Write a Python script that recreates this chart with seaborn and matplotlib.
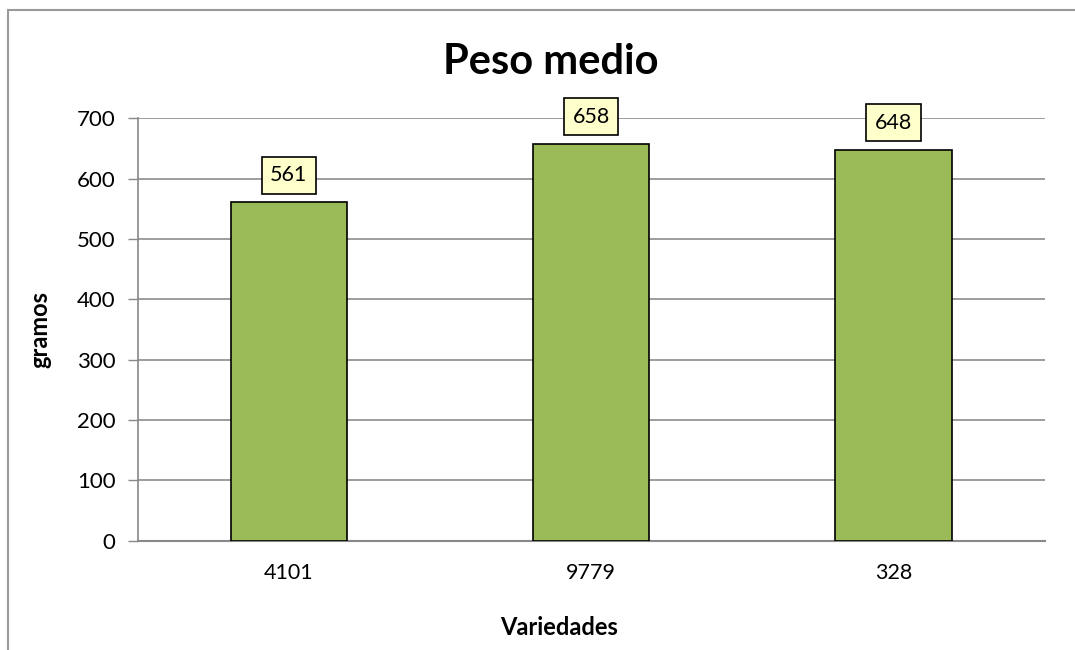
import matplotlib
matplotlib.use("Agg")
import matplotlib.pyplot as plt
import seaborn as sns
import pandas as pd
from matplotlib.lines import Line2D

categories = ["4101", "9779", "328"]
values = [561, 658, 648]
yticks = [0, 100, 200, 300, 400, 500, 600, 700]

sns.set_theme(style="white")
plt.rcParams['font.family'] = ['Lato', 'DejaVu Sans']
plt.rcParams['text.color'] = 'black'
plt.rcParams['axes.labelcolor'] = 'black'
plt.rcParams['xtick.color'] = 'black'
plt.rcParams['ytick.color'] = 'black'

fig = plt.figure(figsize=(10.75, 6.5), dpi=100)
ax = fig.add_axes([0.128, 0.168, 0.844, 0.650])

df = pd.DataFrame({"Variedades": categories, "gramos": values})
sns.barplot(data=df, x="Variedades", y="gramos", color="#9BBB59", saturation=1,
            width=0.385, edgecolor="black", linewidth=1.2, ax=ax, zorder=3)

ax.set_ylim(0, 700)
ax.set_xlim(-0.5, 2.5)
ax.set_yticks(yticks)
ax.set_yticklabels([str(v) for v in yticks], fontsize=16)
ax.tick_params(axis='x', labelsize=15.5, length=0, pad=16, labelcolor="black")
ax.tick_params(axis='y', left=True, length=7, width=1, color="#888888",
               labelcolor="black", pad=9)
ax.grid(axis='y', color="#8c8c8c", linewidth=1.2, zorder=0)
ax.set_axisbelow(True)
for s in ["top", "right"]:
    ax.spines[s].set_visible(False)
ax.spines["left"].set_color("#888888")
ax.spines["bottom"].set_color("#888888")
ax.spines["left"].set_linewidth(1.2)
ax.spines["bottom"].set_linewidth(1.5)

ax.set_xlabel("Variedades", fontsize=17, fontweight="bold")
ax.set_ylabel("gramos", fontsize=17, fontweight="bold", labelpad=18)
ax.xaxis.set_label_coords(0.465, -0.177)

for i, v in enumerate(values):
    ax.annotate(str(v), xy=(i, v), xytext=(0, 19.5), textcoords="offset points",
                ha="center", va="center", fontsize=15.5,
                bbox=dict(boxstyle="square,pad=0.4", facecolor="#FFFFCC",
                          edgecolor="black", linewidth=1.2), zorder=5)

fig.text(0.512, 0.905, "Peso medio", ha="center", va="center",
         fontsize=30, fontweight="bold")

fig.add_artist(Line2D([8/1075, 8/1075], [0, 1-10/650], color="#999999", linewidth=1.5))
fig.add_artist(Line2D([8/1075, 1], [1-10/650, 1-10/650], color="#999999", linewidth=1.5))

fig.savefig("out.png", dpi=100, facecolor="white")
